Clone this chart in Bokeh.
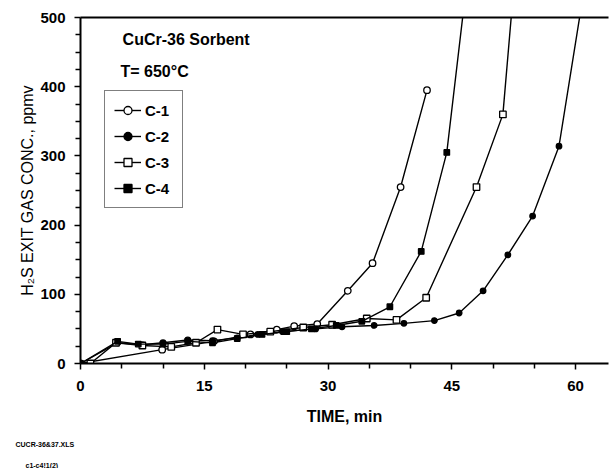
from bokeh.plotting import figure
from bokeh.models import (Range1d, FixedTicker, LinearAxis, Legend, LegendItem, Label, Title)
from bokeh.embed import file_html
from bokeh.resources import INLINE

# ---- data ----
t_c1 = [0, 9.9, 16.2, 20.6, 23.8, 25.9, 28.7, 32.4, 35.4, 38.8, 42.0]
c_c1 = [0, 20, 32, 42, 49, 54, 57, 105, 145, 255, 395]

t_c2 = [0, 4.5, 7.5, 10.0, 13.0, 16.0, 19.0, 21.5, 24.5, 28.5, 31.7, 35.6, 39.2,
        42.9, 45.9, 48.8, 51.8, 54.8, 58.0, 61.5]
c_c2 = [0, 30, 27, 30, 34, 33, 37, 42, 46, 50, 53, 55, 58, 62, 73, 105, 157, 213, 314, 575]

t_c3 = [1.2, 4.3, 7.5, 11.0, 14.0, 16.6, 19.7, 23.0, 27.0, 30.5, 34.7, 38.3, 41.9,
        48.0, 51.2, 54.5]
c_c3 = [0, 30, 26, 24, 30, 49, 42, 46, 52, 56, 65, 63, 95, 255, 360, 820]

t_c4 = [0, 4.5, 7.0, 10.0, 13.0, 16.0, 19.0, 22.0, 25.0, 28.0, 31.0, 34.1, 37.5,
        41.3, 44.4, 47.6]
c_c4 = [0, 32, 28, 28, 32, 30, 36, 42, 46, 50, 55, 61, 82, 162, 305, 630]

x_major = [0, 15, 30, 45, 60]
x_minor = [5, 10, 20, 25, 35, 40, 50, 55]
y_major = [0, 100, 200, 300, 400, 500]
y_minor = [25, 50, 75, 125, 150, 175, 225, 250, 275, 325, 350, 375, 425, 450, 475]

FONT = "Liberation Sans"

p = figure(width=609, height=468, output_backend="svg", toolbar_location=None,
           x_range=Range1d(0, 64), y_range=Range1d(0, 500),
           min_border_left=80, min_border_right=1, min_border_top=17,
           min_border_bottom=103, outline_line_color=None,
           background_fill_color="white", border_fill_color="white")
p.grid.visible = False

for ax in (p.xaxis[0], p.yaxis[0]):
    ax.axis_line_width = 2
    ax.axis_line_color = "black"
    ax.major_tick_line_width = 1.5
    ax.minor_tick_line_width = 1.5
    ax.major_tick_out = 6
    ax.major_tick_in = 0
    ax.minor_tick_out = 5
    ax.minor_tick_in = 0
    ax.major_label_text_font = FONT
    ax.major_label_text_font_style = "bold"
    ax.major_label_text_font_size = "15px"
    ax.major_label_text_color = "black"
    ax.axis_label_text_font = FONT
    ax.axis_label_text_font_size = "16px"
    ax.axis_label_text_color = "black"

p.xaxis[0].ticker = FixedTicker(ticks=x_major, minor_ticks=x_minor)
p.yaxis[0].ticker = FixedTicker(ticks=y_major, minor_ticks=y_minor)
p.xaxis[0].major_label_standoff = 11
p.yaxis[0].major_label_standoff = 9
p.xaxis[0].axis_label = "TIME, min"
p.xaxis[0].axis_label_text_font_style = "bold"
p.xaxis[0].axis_label_standoff = 14
p.yaxis[0].axis_label = "H\u2082S EXIT GAS CONC., ppmv"
p.yaxis[0].axis_label_text_font_style = "normal"
p.yaxis[0].axis_label_standoff = 1

top = LinearAxis(axis_line_width=2, axis_line_color="black",
                 major_tick_line_color=None, minor_tick_line_color=None,
                 major_label_text_font_size="0px", ticker=FixedTicker(ticks=[]))
p.add_layout(top, "above")

series = [
    ("C-1", t_c1, c_c1, "circle", "white", 6.5),
    ("C-2", t_c2, c_c2, "circle", "black", 5.5),
    ("C-3", t_c3, c_c3, "square", "white", 6.5),
    ("C-4", t_c4, c_c4, "square", "black", 5.5),
]
items = []
for name, t, c, mk, fill, sz in series:
    ln = p.line(t, c, line_color="black", line_width=1.4)
    sc = p.scatter(t, c, marker=mk, size=sz, fill_color=fill, line_color="black",
                   line_width=1.3)
    items.append(LegendItem(label=name, renderers=[ln, sc]))

legend = Legend(items=items, location=(24, 155), orientation="vertical",
                label_text_font=FONT, label_text_font_style="bold",
                label_text_font_size="15px", label_text_color="black",
                glyph_width=27, glyph_height=20, label_height=20, label_width=28,
                spacing=6, padding=9, margin=0, label_standoff=4,
                border_line_color="black", border_line_width=1.5,
                background_fill_color="white", background_fill_alpha=1)
p.add_layout(legend, "center")

p.add_layout(Label(x=5.1, y=468, text="CuCr-36 Sorbent", text_font=FONT,
                   text_font_style="bold", text_font_size="16px",
                   text_baseline="middle", text_color="black"))
p.add_layout(Label(x=4.85, y=422, text="T= 650\u00b0C", text_font=FONT,
                   text_font_style="bold", text_font_size="16px",
                   text_baseline="middle", text_color="black"))

t1 = Title(text="CUCR-36&37.XLS", align="left", offset=-65, standoff=23,
           text_font=FONT, text_font_style="bold", text_font_size="7px",
           text_color="black")
t2 = Title(text="c1-c4!1(2)", align="left", offset=-55, standoff=0,
           text_font=FONT, text_font_style="bold", text_font_size="7px",
           text_color="black")
p.add_layout(t1, "below")
p.add_layout(t2, "below")

open("out.html", "w").write(file_html(p, INLINE))
